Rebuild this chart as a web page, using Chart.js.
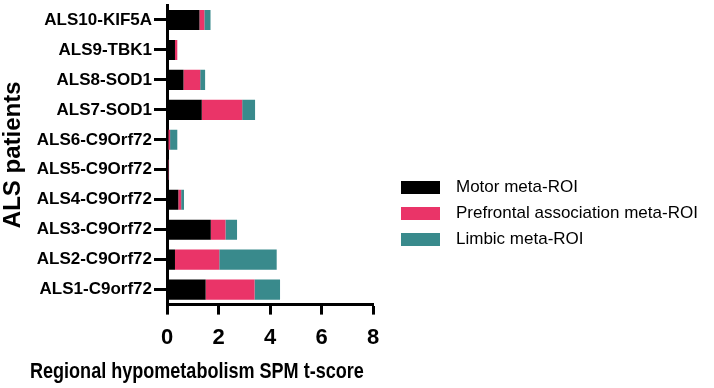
<!DOCTYPE html>
<html>
<head>
<meta charset="UTF-8">
<title>ALS patients</title>
<script src="https://cdn.jsdelivr.net/npm/chart.js"></script>
<style>
  body { margin: 0; background: #fff; }
  .wrap { position: relative; width: 714px; height: 388px; }
  #legenda { position: absolute; left: 401px; top: 174px; font: 17px 'Liberation Sans', Arial, sans-serif; color: #000; }
  #legenda div { height: 26px; display: flex; align-items: center; white-space: nowrap; }
  #legenda span { display: inline-block; width: 39px; height: 13px; margin-right: 16px; }
</style>
</head>
<body>
<div class="wrap">
  <canvas id="grafico" width="714" height="388"></canvas>
  <div id="legenda"></div>
</div>
<script>
  // dados (ALS1 embaixo, ALS10 em cima)
  var pacientes = ['ALS1-C9orf72', 'ALS2-C9Orf72', 'ALS3-C9Orf72', 'ALS4-C9Orf72', 'ALS5-C9Orf72',
    'ALS6-C9Orf72', 'ALS7-SOD1', 'ALS8-SOD1', 'ALS9-TBK1', 'ALS10-KIF5A'];
  var motor = [1.5, 0.31, 1.7, 0.44, 0.05, 0.05, 1.35, 0.64, 0.31, 1.26];
  var prefrontal = [1.9, 1.72, 0.57, 0.11, 0.02, 0.07, 1.57, 0.65, 0.09, 0.19];
  var limbico = [0.99, 2.23, 0.45, 0.11, 0.01, 0.28, 0.5, 0.19, 0, 0.24];
  var ticksX = [0, 2, 4, 6, 8];

  var nomes = ['Motor meta-ROI', 'Prefrontal association meta-ROI', 'Limbic meta-ROI'];
  var cores = ['#000000', '#EA3468', '#398A8C'];

  var fonte = "'Liberation Sans', Arial, sans-serif";

  // titulo do eixo x (fica deslocado pra esquerda e mais estreito no original)
  var tituloX = {
    id: 'tituloX',
    afterDraw: function (chart) {
      var ctx = chart.ctx;
      ctx.save();
      ctx.font = 'bold 22px ' + fonte;
      ctx.fillStyle = '#000';
      ctx.textBaseline = 'middle';
      ctx.translate(30, 372);
      ctx.scale(0.82, 1);
      ctx.fillText('Regional hypometabolism SPM t-score', 0, 0);
      ctx.restore();
    }
  };

  new Chart(document.getElementById('grafico'), {
    type: 'bar',
    data: {
      labels: pacientes,
      datasets: [
        { label: nomes[0], data: motor, backgroundColor: cores[0] },
        { label: nomes[1], data: prefrontal, backgroundColor: cores[1] },
        { label: nomes[2], data: limbico, backgroundColor: cores[2] }
      ]
    },
    options: {
      indexAxis: 'y',
      responsive: false,
      animation: false,
      barPercentage: 0.67,
      categoryPercentage: 1,
      layout: { padding: { top: 0, right: 341, bottom: 27, left: 0 } },
      plugins: { legend: { display: false }, tooltip: { enabled: false } },
      scales: {
        x: {
          stacked: true,
          min: 0,
          max: 8,
          afterBuildTicks: function (s) { s.ticks = ticksX.map(function (v) { return { value: v }; }); },
          border: { color: '#000', width: 3 },
          grid: { drawOnChartArea: false, tickLength: 10, tickWidth: 3, tickColor: '#000' },
          ticks: { color: '#000', padding: 10, font: { family: fonte, size: 22, weight: 'bold' } }
        },
        y: {
          stacked: true,
          reverse: true,
          afterFit: function (s) { s.width = 167; s.paddingTop = 5; s.paddingBottom = 0; },
          border: { color: '#000', width: 3 },
          grid: { offset: false, drawOnChartArea: false, tickLength: 13, tickWidth: 3, tickColor: '#000' },
          ticks: { color: '#000', padding: 2, font: { family: fonte, size: 17, weight: 'bold' } },
          title: {
            display: true,
            text: 'ALS patients',
            color: '#000',
            padding: { top: 0, bottom: 0 },
            font: { family: fonte, size: 24, weight: 'bold', lineHeight: 1.1 }
          }
        }
      }
    },
    plugins: [tituloX]
  });

  // legenda em html
  var leg = document.getElementById('legenda');
  for (var i = 0; i < nomes.length; i++) {
    leg.innerHTML += '<div><span style="background:' + cores[i] + '"></span>' + nomes[i] + '</div>';
  }
</script>
</body>
</html>
